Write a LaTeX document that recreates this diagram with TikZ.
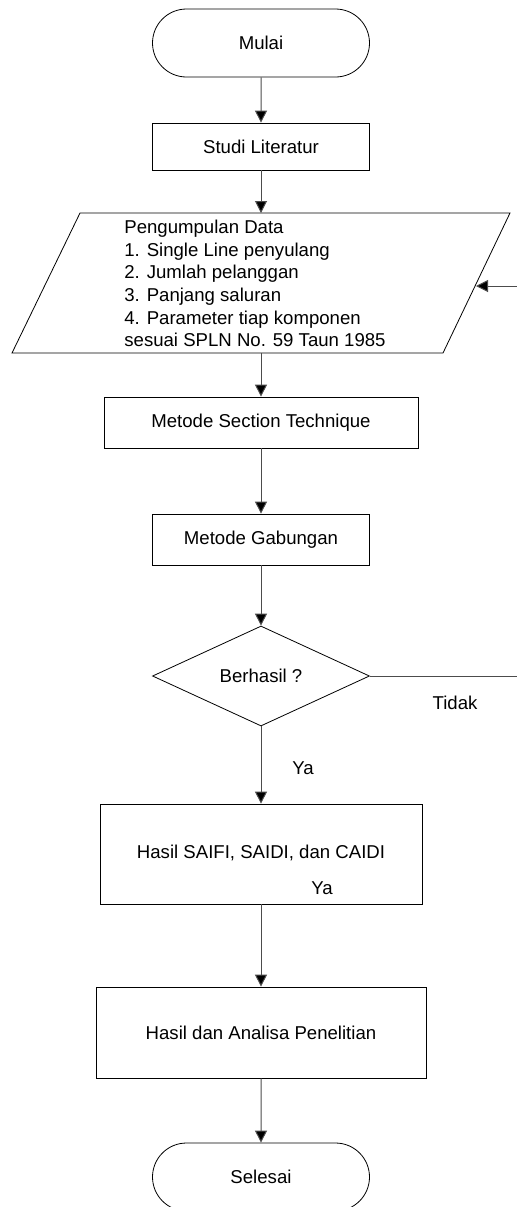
\documentclass[tikz,border=0pt]{standalone}
\usepackage{fontspec}
\setmainfont{Liberation Sans}
\usetikzlibrary{shapes.geometric, shapes.misc, arrows.meta}

\begin{document}
\begin{tikzpicture}[x=0.5pt, y=-0.5pt,
		font=\fontsize{9.3}{11.3}\selectfont,
		kotak/.style={draw, thin, rectangle, inner sep=0pt},
		ujung/.style={draw, thin, rounded rectangle, inner sep=0pt, minimum width=108.5pt, minimum height=34pt},
		pilih/.style={draw, thin, diamond, aspect=2.17, inner sep=0pt, minimum width=108.5pt, minimum height=50pt},
		panah/.style={draw=black!70, line width=0.5pt, -{Triangle[width=6pt, length=6pt, fill=black]}}]

	\clip(0, 0) rectangle (517, 1207);

		\node[ujung] (mulai) at(261, 43){Mulai};
		\node[kotak, minimum width=108.5pt, minimum height=23.5pt] (studi) at(261, 146.5){Studi Literatur};

		\draw[thin](80, 213) to (510, 213) to (443, 353) to (12, 353) to cycle;
			\coordinate (dataatas) at(261, 213);
			\coordinate (databawah) at(261, 353);
			\coordinate (datakanan) at(476, 286);
		\node[align=left, inner sep=0pt] (data) at(255, 283.5){Pengumpulan Data\\1. Single Line penyulang\\2. Jumlah pelanggan\\3. Panjang saluran\\4. Parameter tiap komponen\\sesuai SPLN No. 59 Taun 1985};

		\node[kotak, minimum width=157pt, minimum height=25.5pt] (section) at(261, 422.5){Metode Section Technique};
		\node[kotak, minimum width=108.5pt, minimum height=25.5pt] (gabungan) at(261, 539.5){Metode Gabungan};
		\node[pilih] (berhasil) at(261, 676){Berhasil ?};
		\node[kotak, minimum width=161pt, minimum height=50pt] (saifi) at(261, 854){};
		\node (saifiteks) at(261, 853){Hasil SAIFI, SAIDI, dan CAIDI};
		\node[kotak, minimum width=165pt, minimum height=45.5pt] (analisa) at(261, 1032.5){Hasil dan Analisa Penelitian};
		\node[ujung] (selesai) at(261, 1177){Selesai};

		\node (tidak) at(455, 703){Tidak};
		\node (ya) at(303, 768){Ya};
		\node (ya2) at(322, 888){Ya};

			\coordinate (balik) at(530, 676);

		\draw[panah](mulai) to (studi);
		\draw[panah](studi) to (dataatas);
		\draw[panah](databawah) to (section);
		\draw[panah](section) to (gabungan);
		\draw[panah](gabungan) to (berhasil);
		\draw[panah](berhasil) to (saifi);
		\draw[panah](saifi) to (analisa);
		\draw[panah](analisa) to (selesai);
		\draw[panah](berhasil.east) to (balik) |- (datakanan);

	\end{tikzpicture}
\end{document}
